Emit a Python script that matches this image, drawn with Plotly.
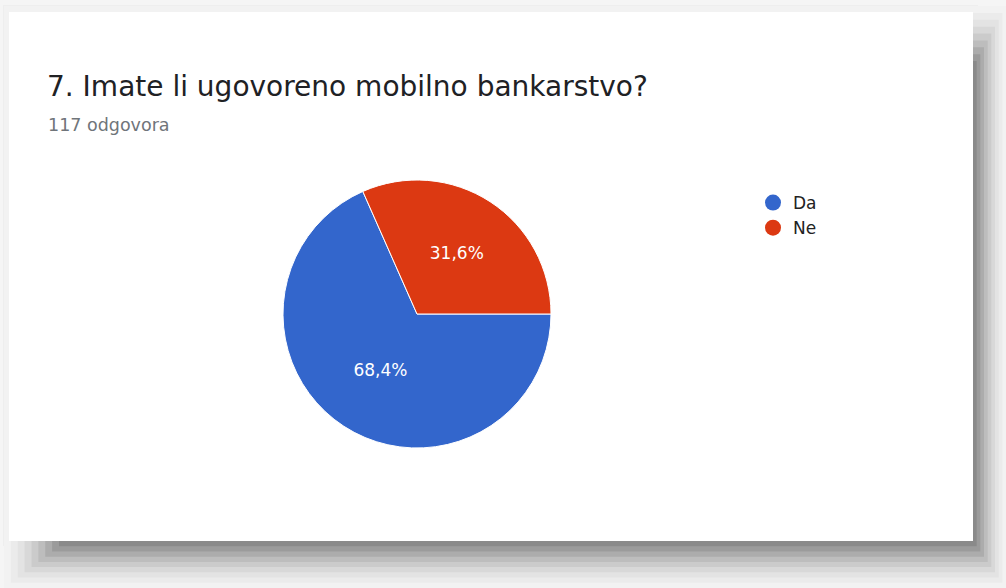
import plotly.graph_objects as go

labels = ["Da", "Ne"]
values = [80, 37]
colors = ["#3366CC", "#DC3912"]
title_text = "7. Imate li ugovoreno mobilno bankarstvo?"
subtitle_text = "117 odgovora"

W, H = 1006, 588
FONT = "DejaVu Sans, Roboto, Arial"

fig = go.Figure()

cx, cy, r = 417, 314, 134
fig.add_trace(go.Pie(
    labels=labels, values=values, sort=False, direction="clockwise", rotation=90,
    marker=dict(colors=colors, line=dict(color="white", width=1)),
    textinfo="percent", textposition="inside", insidetextorientation="horizontal",
    textfont=dict(color="white", size=17, family=FONT),
    showlegend=False, hoverinfo="label+percent",
    domain=dict(x=[(cx - r) / W, (cx + r) / W], y=[(H - cy - r) / H, (H - cy + r) / H]),
))

for lab, col in zip(labels, colors):
    fig.add_trace(go.Scatter(x=[None], y=[None], mode="markers", name=lab,
                             marker=dict(symbol="circle", size=16, color=col)))

shapes = []
shapes.append(dict(type="rect", xref="paper", yref="paper", x0=0, x1=1, y0=0, y1=1,
                   fillcolor="#f5f5f5", line=dict(width=0), layer="below"))
shapes.append(dict(type="rect", xref="paper", yref="paper",
                   x0=3 / W, x1=978 / W, y0=(H - 546) / H, y1=(H - 5) / H,
                   fillcolor="#eeeeee", line=dict(width=0), layer="below"))
shadow = ["#8a8a8a", "#9b9b9b", "#acacac", "#bdbdbd", "#cbcbcb", "#d8d8d8", "#e3e3e3", "#ebebeb", "#f2f2f2"]
n = len(shadow)
for i in range(n - 1, -1, -1):
    ext_b = 47 * (i + 1) / n
    ext_r = 33 * (i + 1) / n
    inset = 55 * (n - 1 - i) / (n - 1)
    shapes.append(dict(type="rect", xref="paper", yref="paper",
                       x0=(4 + inset) / W, x1=(973 + ext_r) / W,
                       y0=(H - 541 - ext_b) / H, y1=(H - 6 - inset) / H,
                       fillcolor=shadow[i], line=dict(width=0), layer="below"))
shapes.append(dict(type="rect", xref="paper", yref="paper",
                   x0=9 / W, x1=973 / W, y0=(H - 541) / H, y1=(H - 12) / H,
                   fillcolor="white", line=dict(width=0), layer="below"))

annotations = [
    dict(text=title_text, x=45 / W, y=(H - 86) / H, xref="paper", yref="paper",
         xanchor="left", yanchor="middle", showarrow=False,
         font=dict(family=FONT, size=28, color="#202124")),
    dict(text=subtitle_text, x=46 / W, y=(H - 125) / H, xref="paper", yref="paper",
         xanchor="left", yanchor="middle", showarrow=False,
         font=dict(family=FONT, size=17.5, color="#70757a")),
]

fig.update_layout(
    width=W, height=H, margin=dict(l=0, r=0, t=0, b=0),
    paper_bgcolor="#f5f5f5", plot_bgcolor="rgba(0,0,0,0)",
    separators=",.",
    shapes=shapes, annotations=annotations,
    xaxis=dict(visible=False), yaxis=dict(visible=False),
    legend=dict(x=753 / W, y=(H - 185) / H, xanchor="left", yanchor="top",
                font=dict(family=FONT, size=17, color="#222222"),
                bgcolor="rgba(0,0,0,0)", itemwidth=30),
)

fig.write_html("out.html", config={"displayModeBar": False},
               post_script="document.body.style.margin='0';document.body.style.padding='0';document.body.style.overflow='hidden';")
